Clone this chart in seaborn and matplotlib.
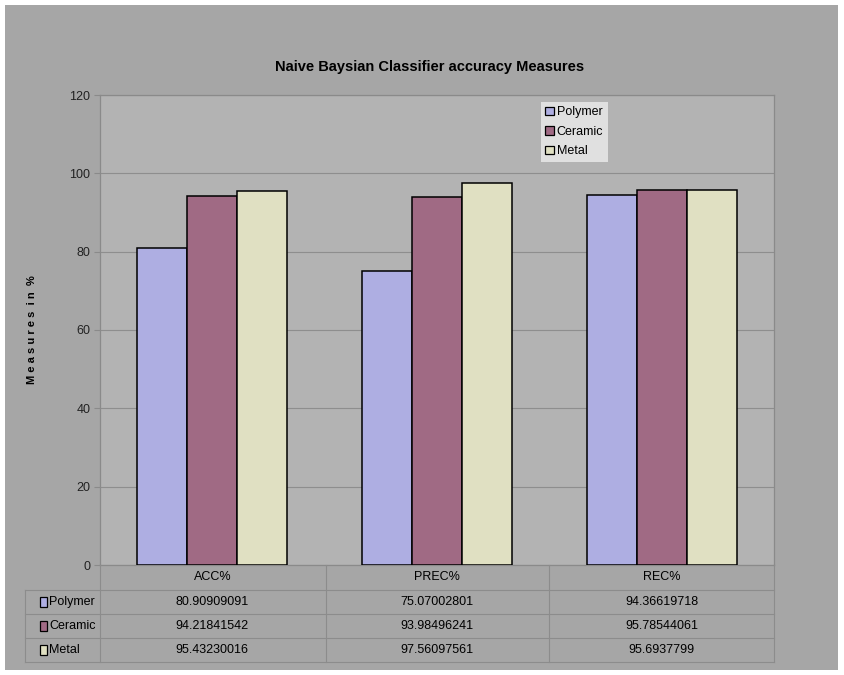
import matplotlib
matplotlib.use("Agg")
import matplotlib.pyplot as plt
import matplotlib.transforms as mtransforms
from matplotlib.patches import Rectangle
from matplotlib.lines import Line2D
import seaborn as sns
import pandas as pd

categories = ["ACC%", "PREC%", "REC%"]
series_names = ["Polymer", "Ceramic", "Metal"]
polymer = [80.90909091, 75.07002801, 94.36619718]
ceramic = [94.21841542, 93.98496241, 95.78544061]
metal = [95.43230016, 97.56097561, 95.6937799]
table_text = {
    "Polymer": ["80.90909091", "75.07002801", "94.36619718"],
    "Ceramic": ["94.21841542", "93.98496241", "95.78544061"],
    "Metal": ["95.43230016", "97.56097561", "95.6937799"],
}
colors = ["#aeaee2", "#a06a84", "#e0e0c2"]
yticks = [0, 20, 40, 60, 80, 100, 120]

values = {"Polymer": polymer, "Ceramic": ceramic, "Metal": metal}
rows = []
for s in series_names:
    for c, v in zip(categories, values[s]):
        rows.append({"Category": c, "Material": s, "Value": v})
df = pd.DataFrame(rows)

plt.rcParams['font.family'] = ['Liberation Sans', 'DejaVu Sans']

W, H = 844, 675
fig = plt.figure(figsize=(W / 100, H / 100), dpi=100)
fig.patch.set_facecolor("white")

def fx(px):
    return px / W

def fy(py):
    return 1 - py / H

# outer gray chart area
fig.patches.append(Rectangle((fx(5), fy(670)), fx(833), 665 / H,
                             transform=fig.transFigure, facecolor="#a6a6a6",
                             edgecolor="none", zorder=-10))

left, right, top, bottom = 100, 774, 95, 565
ax = fig.add_axes([fx(left), fy(bottom), (right - left) / W, (bottom - top) / H])
ax.set_facecolor("#b3b3b3")

sns.barplot(data=df, x="Category", y="Value", hue="Material", order=categories,
            hue_order=series_names, palette=colors, width=0.667,
            edgecolor="black", linewidth=1.1, saturation=1, ax=ax, zorder=3)

ax.set_ylim(0, 120)
ax.set_xlim(-0.5, 2.5)
ax.set_yticks(yticks)
ax.set_yticklabels([str(t) for t in yticks], fontsize=9, color="#222222")
ax.set_xticks([])
ax.set_xlabel("")
ax.set_ylabel("M e a s u r e s  i n  %", fontsize=8, fontweight="bold", labelpad=0)
ax.yaxis.set_label_coords(-0.093, 0.5)
ax.grid(axis="y", color="#8e8e8e", linewidth=0.8, zorder=0)
ax.set_axisbelow(True)
for sp in ax.spines.values():
    sp.set_color("#8a8a8a")
    sp.set_linewidth(0.9)
ax.tick_params(axis="y", length=4, color="#8a8a8a", pad=3)

fig.text(fx(430), fy(67), "Naive Baysian Classifier accuracy Measures",
         ha="center", va="center", fontsize=10.5, fontweight="bold")

leg = ax.legend(loc="upper left", bbox_to_anchor=(fx(541), fy(102)),
                bbox_transform=fig.transFigure, fontsize=9, frameon=True,
                fancybox=False, handlelength=0.7, handleheight=0.7,
                handletextpad=0.2, borderpad=0.35, labelspacing=0.6,
                borderaxespad=0)
leg.get_frame().set_facecolor("#e0e0e0")
leg.get_frame().set_edgecolor("none")
leg.get_frame().set_alpha(1)
for h in leg.legend_handles:
    h.set_edgecolor("black")
    h.set_linewidth(0.9)

# data table below the axes
line_color = "#8c8c8c"
trans = mtransforms.blended_transform_factory(ax.transData, fig.transFigure)
row_edges = [565, 590, 614, 638, 662]
col_edges = [100, 326, 549, 774]
for y in row_edges[1:]:
    fig.add_artist(Line2D([fx(25), fx(774)], [fy(y), fy(y)], color=line_color,
                          linewidth=0.8, transform=fig.transFigure))
for x in col_edges:
    fig.add_artist(Line2D([fx(x), fx(x)], [fy(565), fy(662)], color=line_color,
                          linewidth=0.8, transform=fig.transFigure))
fig.add_artist(Line2D([fx(25), fx(25)], [fy(590), fy(662)], color=line_color,
                      linewidth=0.8, transform=fig.transFigure))

for i, c in enumerate(categories):
    ax.text(i, fy((row_edges[0] + row_edges[1]) / 2), c, transform=trans,
            ha="center", va="center", fontsize=9, clip_on=False)
for r, (s, col) in enumerate(zip(series_names, colors)):
    yc = (row_edges[r + 1] + row_edges[r + 2]) / 2
    for i in range(len(categories)):
        ax.text(i, fy(yc), table_text[s][i], transform=trans,
                ha="center", va="center", fontsize=9, clip_on=False)
    fig.patches.append(Rectangle((fx(40), fy(yc + 5)), 7 / W, 10 / H,
                                 transform=fig.transFigure, facecolor=col,
                                 edgecolor="black", linewidth=0.9))
    fig.text(fx(49), fy(yc), s, ha="left", va="center", fontsize=9)

fig.savefig("out.png", dpi=100)
